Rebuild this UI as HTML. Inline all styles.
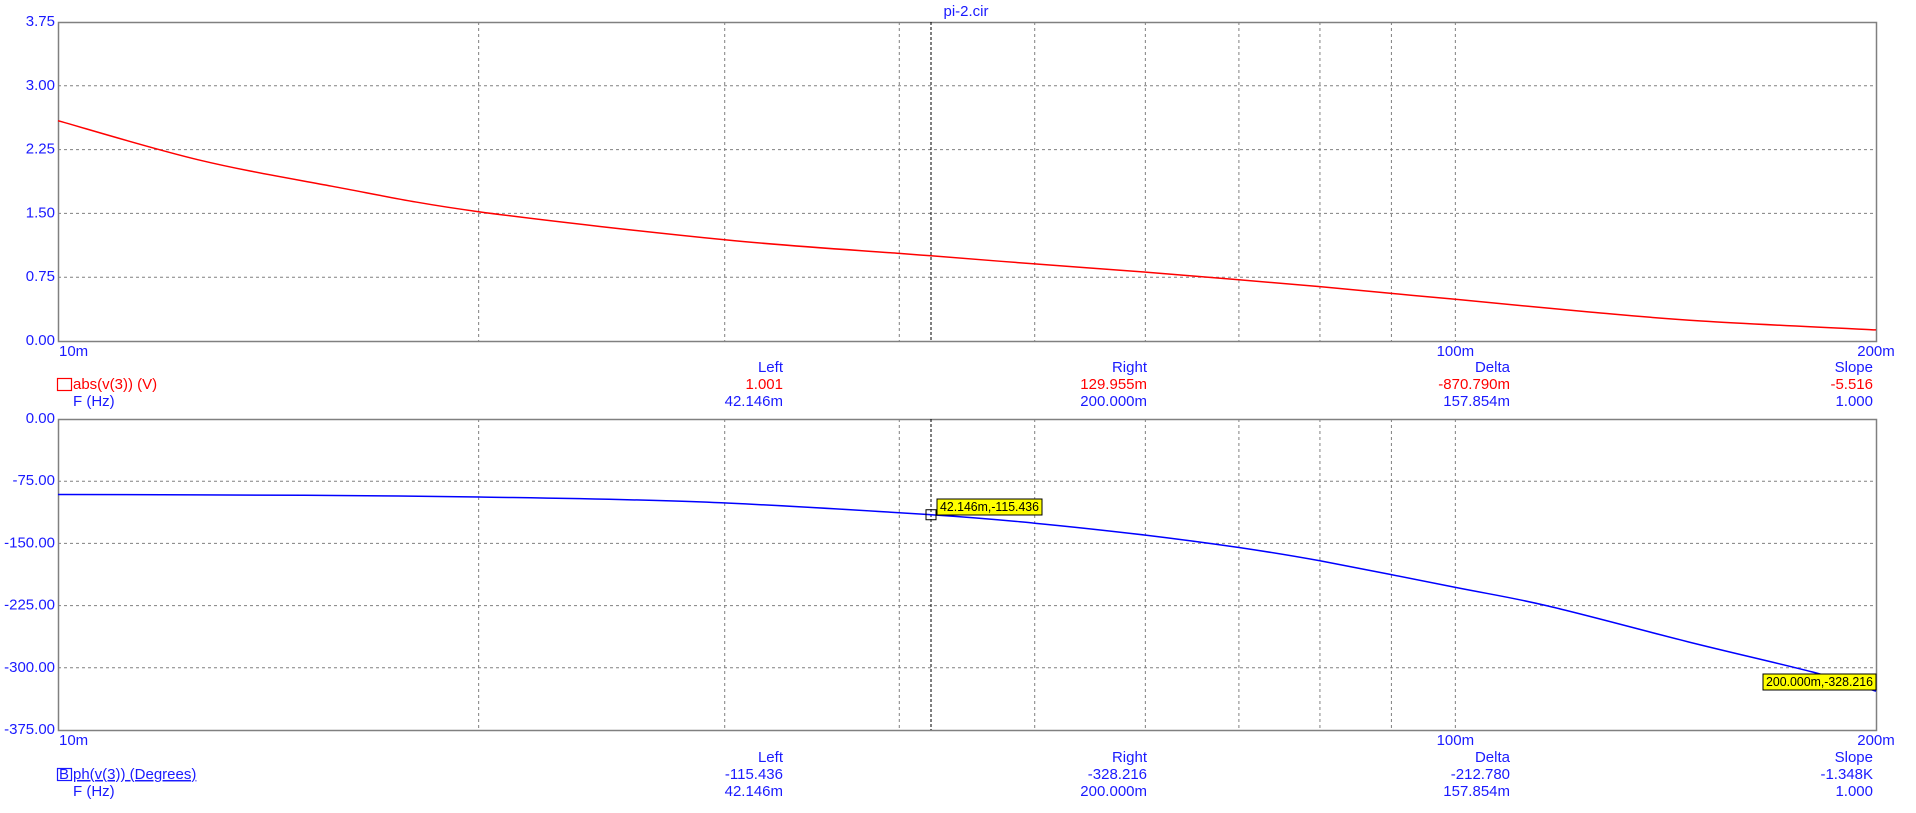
<!DOCTYPE html>
<html><head><meta charset="utf-8"><style>
html,body{margin:0;padding:0;background:#fff;}
svg{display:block;font-family:"Liberation Sans",Arial,sans-serif;}
</style></head><body>
<svg id="chart" width="1916" height="813" viewBox="0 0 1916 813" xmlns="http://www.w3.org/2000/svg"></svg>
<script>
const freqs = [10,12.6,15.7,20,30,40,42.146,50,60,70,80,90,100,125,150,200];
const magValues = [2.59,2.13,1.82,1.52,1.19,1.03,1.001,0.906,0.81,0.72,0.64,0.56,0.49,0.34,0.235,0.13];
const phFreqs = [10,15,20,28.8,42.146,50,60,70,80,100,116.5,147,180,200];
const phValues = [-91,-92,-94,-100,-115.4,-125.7,-140,-155,-171,-203,-225.5,-269,-305,-328.2];
const magTicks = [0,0.75,1.5,2.25,3,3.75];
const magTickLabels = ["0.00","0.75","1.50","2.25","3.00","3.75"];
const phTicks = [0,-75,-150,-225,-300,-375];
const phTickLabels = ["0.00","-75.00","-150.00","-225.00","-300.00","-375.00"];
const gridFreqs = [20,30,40,50,60,70,80,90,100];
const cursorFreq = 42.146;

const NS="http://www.w3.org/2000/svg";
const svg=document.getElementById('chart');
const X0=58,X1=1876;
function xs(f){return X0+(X1-X0)*Math.log10(f/10)/Math.log10(20);}
const magP={y0:22,y1:341,min:0,max:3.75};
const phP={y0:419,y1:730,min:-375,max:0};
function ys(p,v){return p.y1-(v-p.min)/(p.max-p.min)*(p.y1-p.y0);}
function el(t,a,parent){const e=document.createElementNS(NS,t);for(const k in a)e.setAttribute(k,a[k]);(parent||svg).appendChild(e);return e;}
function txt(s,x,y,fill,anchor,parent){const e=el('text',{x:x,y:y,fill:fill,'font-size':15,'text-anchor':anchor||'start','dominant-baseline':'middle'},parent);e.textContent=s;return e;}
const BLUE="#1a1aff",RED="#ff0000",GRID="#808080";

const title=txt("pi-2.cir",966,12,BLUE,'middle');



function panel(p,ticks,labels,name){
  const g=el('g',{});
  
  
  ticks.forEach((t,i)=>{
    const y=ys(p,t);
    if(t!==p.min&&t!==p.max){
      const l=el('line',{x1:X0,x2:X1,y1:y,y2:y,stroke:GRID,'stroke-dasharray':'3,3'},g);
      
      
    }
    const tl=txt(labels[i],55,y,BLUE,'end',g);
    
    
  });
  gridFreqs.forEach(f=>{
    const x=xs(f);
    const l=el('line',{x1:x,x2:x,y1:p.y0,y2:p.y1,stroke:GRID,'stroke-dasharray':'3,3'},g);
    
    
  });
  const fr=el('rect',{x:X0+0.5,y:p.y0+0.5,width:X1-X0,height:p.y1-p.y0,fill:'none',stroke:GRID,'stroke-width':1.5},g);
  
  
  const cx=xs(cursorFreq);
  const c=el('line',{x1:cx,x2:cx,y1:p.y0,y2:p.y1,stroke:'#000','stroke-dasharray':'3,2'},g);
  
  
  [["10m",59,'start'],["100m",xs(100),'middle'],["200m",X1,'middle']].forEach(a=>{
    const t=txt(a[0],a[1],p.y1+11,BLUE,a[2],g);
    
    
  });
  return g;
}
panel(magP,magTicks,magTickLabels,'magnitude');
panel(phP,phTicks,phTickLabels,'phase');

function series(p,fs,vs,color,name){
  const P=fs.map((f,i)=>[xs(f),ys(p,vs[i])]);
  let d='M'+P[0][0].toFixed(1)+','+P[0][1].toFixed(1);
  for(let i=0;i<P.length-1;i++){
    const p0=P[Math.max(0,i-1)],p1=P[i],p2=P[i+1],p3=P[Math.min(P.length-1,i+2)];
    const c1=[p1[0]+(p2[0]-p0[0])/6,p1[1]+(p2[1]-p0[1])/6];
    const c2=[p2[0]-(p3[0]-p1[0])/6,p2[1]-(p3[1]-p1[1])/6];
    d+=' C'+c1.map(v=>v.toFixed(1)).join(',')+' '+c2.map(v=>v.toFixed(1)).join(',')+' '+p2.map(v=>v.toFixed(1)).join(',');
  }
  const l=el('path',{d:d,fill:'none',stroke:color,'stroke-width':1.5});
  
  
}
series(magP,freqs,magValues,RED,'magnitude-line');
series(phP,phFreqs,phValues,'#0000ff','phase-line');

const mk=el('rect',{x:xs(cursorFreq)-5,y:ys(phP,-115.436)-5,width:10,height:10,fill:'none',stroke:'#000'});


function tag(s,x,y,w,name){
  const r=el('rect',{x:x,y:y,width:w,height:16,fill:'#ffff00',stroke:'#000'});
  
  
  const t=txt(s,x+3,y+8.5,'#000','start');
  t.setAttribute('font-size',13);
  t.setAttribute('textLength',w-6);
  t.setAttribute('lengthAdjust','spacingAndGlyphs');
  
  
}
tag("42.146m,-115.436",937,499,105,'left-cursor-label');
tag("200.000m,-328.216",1763,674,113,'right-cursor-label');

function readout(y0,sq,sqColor,label,lblColor,vals,valColor,underline,name){
  const h=["Left","Right","Delta","Slope"],cols=[783,1147,1510,1873];
  h.forEach((s,i)=>{const t=txt(s,cols[i],y0,BLUE,'end');});
  const b=el('rect',{x:57.5,y:y0+10.5,width:14,height:12,fill:'none',stroke:sqColor,'stroke-width':1.2});
  
  
  if(sq){const t=txt(sq,59,y0+17,BLUE,'start');}
  const lt=txt(label,73,y0+17,lblColor,'start');
  if(underline)lt.setAttribute('text-decoration','underline');
  
  
  const ft=txt("F (Hz)",73,y0+34,BLUE,'start');
  
  
  vals[0].forEach((s,i)=>{const t=txt(s,cols[i],y0+17,valColor,'end');});
  vals[1].forEach((s,i)=>{const t=txt(s,cols[i],y0+34,BLUE,'end');});
}
readout(368,null,RED,"abs(v(3)) (V)",RED,[["1.001","129.955m","-870.790m","-5.516"],["42.146m","200.000m","157.854m","1.000"]],RED,false,'magnitude-readout');
readout(758,"B",BLUE,"ph(v(3)) (Degrees)",BLUE,[["-115.436","-328.216","-212.780","-1.348K"],["42.146m","200.000m","157.854m","1.000"]],BLUE,true,'phase-readout');
</script>
</body></html>
